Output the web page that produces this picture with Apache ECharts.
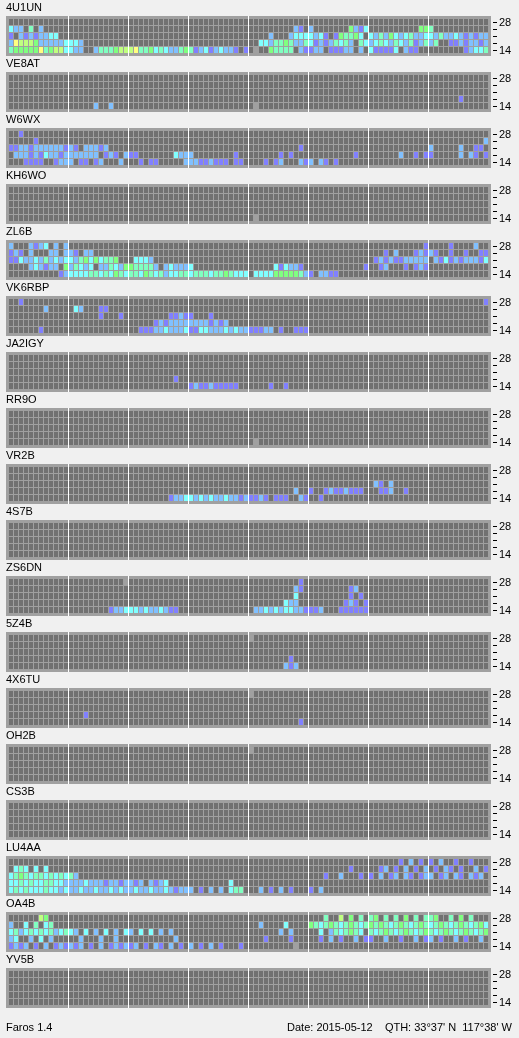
<!DOCTYPE html>
<html><head><meta charset="utf-8">
<script src="https://cdn.jsdelivr.net/npm/echarts@6/dist/echarts.min.js"></script>
<style>html,body{margin:0;padding:0;background:#f0f0f0;}#c{width:519px;height:1038px;}</style>
</head><body><div id="c"></div>
<script>
// ---- DATA ----
// bands, bottom to top
const bandLabels = ['14', '18', '21', '24', '28'];
// 96 fifteen-minute time slots of the day
const slots = Array.from({length: 96}, (_, i) => i);
// slot indices where a 3-hour divider is drawn
const hourMarks = [12, 24, 36, 48, 60, 72, 84];
const stationNames = ['4U1UN','VE8AT','W6WX','KH6WO','ZL6B','VK6RBP','JA2IGY','RR9O','VR2B','4S7B','ZS6DN','5Z4B','4X6TU','OH2B','CS3B','LU4AA','OA4B','YV5B'];
// signal level colours (1 = weakest ... 7 = strongest), 'g' = slot being monitored
const levelColors = ['#8080ff','#80c0ff','#80ffff','#80ffc0','#80ff80','#c0ff80','#ffff80'];
const emptyColor = '#717171';
const currentColor = '#a0a0a0';
const footerLeft = 'Faros 1.4';
const footerRight = "Date: 2015-05-12    QTH: 33\u00b037' N  117\u00b038' W";

const E = '............';
// rows: 28, 24, 21, 18, 14 MHz (top to bottom); '.' no signal, digit = level
const st_4U1UN = [
  [E,E,E,E,E,E,E,E].join(' '),
  ['322.4.2.....',E,E,E,'.........21.','2.......5213','..........55','4...........'].join(' '),
  ['1.21212233..',E,E,E,'....2...2333','3231.154453.','324253234223','324223212122'].join(' '),
  ['276665222223','332.........',E,E,'..3324454224','312124342.43','234324324124','24..11212212'].join(' '),
  ['455555745663','322..2444566','674453432245','4123123221.1','.g..54444.21','122.11122.2.','311113.211..','.......12334'].join(' ')
];
const st_VE8AT = [
  [E,E,E,E,E,E,E,E].join(' '),
  [E,E,E,E,E,E,E,E].join(' '),
  [E,E,E,E,E,E,E,E].join(' '),
  [E,E,E,E,E,E,E,'......1.....'].join(' '),
  [E,'.....2..2...',E,E,'.g..........',E,E,E].join(' ')
];
const st_W6WX = [
  ['..1.........',E,E,E,E,E,E,E].join(' '),
  ['.....1......',E,E,E,E,E,E,'...........2'].join(' '),
  ['112212222221','21.22212....',E,E,'..........1.',E,E,'2.....2..11.'].join(' '),
  ['.22212132212','222222.121.2','11.......322','2........1..','......1.1...','.........1..','......2..1.1','1.....2.21.1'].join(' '),
  ['...1111..122','2.11.12...2.','..1.11.....2','22112111.11.','...1.12...21','2.21.1......',E,E].join(' ')
];
const st_KH6WO = [
  [E,E,E,E,E,E,E,E].join(' '),
  [E,E,E,E,E,E,E,E].join(' '),
  [E,E,E,E,E,E,E,E].join(' '),
  [E,E,E,E,E,E,E,E].join(' '),
  [E,E,E,E,'.g..........',E,E,E].join(' ')
];
const st_ZL6B = [
  ['2...2123.2.2',E,E,E,E,E,'...........1','....1....2..'].join(' '),
  ['121.2...22.2','21.22.......',E,E,E,E,'...1.2...121','21..1..1..11'].join(' '),
  ['113223242323','3245353445..','.3332.......',E,E,E,'.12121122222','.21312122213'].join(' '),
  ['....232122.5','24323.224325','544442.23222','3...........','.....313221.','...........1','..12...1.121',E].join(' '),
  ['..........12','333344343543','443543423344','344434454333','.33335555542','1.2211......',E,E].join(' ')
];
const st_VK6RBP = [
  ['..1.........',E,E,E,E,E,E,'...........1'].join(' '),
  ['.......2....','.32...11....',E,E,E,E,E,E].join(' '),
  [E,'......1...1.','........1121','1...1.......',E,E,E,E].join(' '),
  [E,E,'.....1212222','22221212....',E,E,E,E].join(' '),
  ['......1.....',E,'..1112232223','113322232322','11122.1..111',E,E,E].join(' ')
];
const st_JA2IGY = [
  [E,E,E,E,E,E,E,E].join(' '),
  [E,E,E,E,E,E,E,E].join(' '),
  [E,E,E,E,E,E,E,E].join(' '),
  [E,E,'.........1..',E,E,E,E,E].join(' '),
  [E,E,E,'1211211111..','....1..1....',E,E,E].join(' ')
];
const st_RR9O = [
  [E,E,E,E,E,E,E,E].join(' '),
  [E,E,E,E,E,E,E,E].join(' '),
  [E,E,E,E,E,E,E,E].join(' '),
  [E,E,E,E,E,E,E,E].join(' '),
  [E,E,E,E,'.g..........',E,E,E].join(' ')
];
const st_VR2B = [
  [E,E,E,E,E,E,E,E].join(' '),
  [E,E,E,E,E,E,E,E].join(' '),
  [E,E,E,E,E,E,'.21.2.......',E].join(' '),
  [E,E,E,E,'.........2..','1..12112111.','..112..1....',E].join(' '),
  [E,E,'........1223','323232232212','1121.111..21','..1.........',E,E].join(' ')
];
const st_4S7B = [
  [E,E,E,E,E,E,E,E].join(' '),
  [E,E,E,E,E,E,E,E].join(' '),
  [E,E,E,E,E,E,E,E].join(' '),
  [E,E,E,E,E,E,E,E].join(' '),
  [E,E,E,E,E,E,E,E].join(' ')
];
const st_ZS6DN = [
  [E,'...........g',E,E,'..........1.',E,E,E].join(' '),
  [E,E,E,E,'.........21.','........12..',E,E].join(' '),
  [E,E,E,E,'.........3..','........1.1.',E,E].join(' '),
  [E,E,E,E,'.......322..','.......121.1',E,E].join(' '),
  [E,'........1223','3323223211..',E,'.22323233221','112...111111',E,E].join(' ')
];
const st_5Z4B = [
  [E,E,E,E,'g...........',E,E,E].join(' '),
  [E,E,E,E,E,E,E,E].join(' '),
  [E,E,E,E,E,E,E,E].join(' '),
  [E,E,E,E,'........1...',E,E,E].join(' '),
  [E,E,E,E,'.......212..',E,E,E].join(' ')
];
const st_4X6TU = [
  [E,E,E,E,'g...........',E,E,E].join(' '),
  [E,E,E,E,E,E,E,E].join(' '),
  [E,E,E,E,E,E,E,E].join(' '),
  [E,'...1........',E,E,E,E,E,E].join(' '),
  [E,E,E,E,'..........1.',E,E,E].join(' ')
];
const st_OH2B = [
  [E,E,E,E,'g...........',E,E,E].join(' '),
  [E,E,E,E,E,E,E,E].join(' '),
  [E,E,E,E,E,E,E,E].join(' '),
  [E,E,E,E,E,E,E,E].join(' '),
  [E,E,E,E,E,E,E,E].join(' ')
];
const st_CS3B = [
  [E,E,E,E,E,E,E,E].join(' '),
  [E,E,E,E,E,E,E,E].join(' '),
  [E,E,E,E,E,E,E,E].join(' '),
  [E,E,E,E,E,E,E,E].join(' '),
  [E,E,E,E,E,E,E,E].join(' ')
];
const st_LU4AA = [
  [E,E,E,E,E,E,'......1.2.1.','1.2..1..1...'].join(' '),
  ['.343.3.3....',E,E,E,E,'........1...','..12.1.2.1.2','.1.21.1..2.1'].join(' '),
  ['345434434343','42..........',E,E,E,'...1..2...1.','1.2.12.21.12','2.12.21.212.'].join(' '),
  ['334343344332','222322212212','212.2123....','........3...',E,E,E,E].join(' '),
  ['343433343323','223223223232','232232232122','2.1.2.2.344.','..2.1.2.1...','1.2.........',E,E].join(' ')
];
const st_OA4B = [
  ['......65....',E,E,E,E,'...4..6.5.4.','45.4.4.5.4.4','45..4.5.4...'].join(' '),
  ['2..3.4.34...',E,E,E,'..2....3....','543454345434','545434543454','345434543453'].join(' '),
  ['342343434234','32.3.2.3.2.3','2.3.3.2.2...',E,'......2.2...','..3.2434543.','434543454345','434543454345'].join(' '),
  ['23..2.3.2...','..2...2..2..','.........2..',E,'...1....1...','..1.2.1..2.1','1..2..1..2.1','2.1..2.1..2.'].join(' '),
  ['1212.1.2.121','212.1.2.1212','12.1.21.2.1.','2.1.2.1...1.','.........g..',E,E,E].join(' ')
];
const st_YV5B = [
  [E,E,E,E,E,E,E,E].join(' '),
  [E,E,E,E,E,E,E,E].join(' '),
  [E,E,E,E,E,E,E,E].join(' '),
  [E,E,E,E,E,E,E,E].join(' '),
  [E,E,E,E,E,E,E,E].join(' ')
];
const stationRows = [st_4U1UN, st_VE8AT, st_W6WX, st_KH6WO, st_ZL6B, st_VK6RBP, st_JA2IGY, st_RR9O, st_VR2B, st_4S7B, st_ZS6DN, st_5Z4B, st_4X6TU, st_OH2B, st_CS3B, st_LU4AA, st_OA4B, st_YV5B];

// ---- CHART ----
const FONT = '"Liberation Sans", Arial, sans-serif';
const PITCH = 56;
function cellColor(v) {
  if (v < 0) return currentColor;
  if (v === 0) return emptyColor;
  return levelColors[v - 1];
}
function parseRows(rows) {
  const out = [];
  rows.forEach((str, r) => {
    const t = str.replace(/\s+/g, '');
    const j = 4 - r;
    for (let k = 0; k < slots.length; k++) {
      const ch = t[k] || '.';
      const v = ch === '.' ? 0 : (ch === 'g' ? -1 : parseInt(ch, 10));
      out.push([k, j, v]);
    }
  });
  return out;
}
function renderFrame(params, api) {
  const cs = params.coordSys;
  return {type: 'rect', shape: {x: cs.x - 2, y: cs.y - 3, width: cs.width + 5, height: cs.height + 5}, style: {fill: '#a0a0a0'}};
}
function renderCell(params, api) {
  const c = api.coord([api.value(0), api.value(1)]);
  const s = api.size([1, 1]);
  return {type: 'rect', shape: {x: Math.round(c[0] - s[0] / 2) + 1, y: Math.round(c[1] - s[1] / 2), width: s[0] - 1, height: s[1] - 1}, style: {fill: cellColor(api.value(2))}};
}
function renderDivider(params, api) {
  const cs = params.coordSys;
  const c = api.coord([api.value(0), 0]);
  const s = api.size([1, 1]);
  return {type: 'rect', shape: {x: Math.round(c[0] - s[0] / 2), y: cs.y - 3, width: 1, height: cs.height + 5}, style: {fill: '#ffffff'}};
}

const grids = [], xAxes = [], yAxes = [], series = [], graphics = [];
stationNames.forEach((name, i) => {
  const top0 = 16 + PITCH * i;
  graphics.push({type: 'text', x: 6, y: top0 - 8, style: {text: name, font: '11px ' + FONT, fill: '#000', textVerticalAlign: 'middle'}});
  grids.push({left: 8, top: top0 + 3, width: 480, height: 35, containLabel: false});
  xAxes.push({type: 'category', gridIndex: i, data: slots, show: false, boundaryGap: true});
  yAxes.push({
    type: 'category', gridIndex: i, data: bandLabels, position: 'right', offset: 5,
    axisLine: {show: false},
    axisTick: {show: true, alignWithLabel: true, interval: 0, length: 4, lineStyle: {color: '#000', width: 1}},
    axisLabel: {interval: 0, margin: 6, fontSize: 11, fontFamily: FONT, color: '#000',
      formatter: v => (v === bandLabels[0] || v === bandLabels[4]) ? v : ''},
    splitLine: {show: false}
  });
  series.push({type: 'custom', xAxisIndex: i, yAxisIndex: i, z: 1, silent: true, data: [[0, 0]], renderItem: renderFrame});
  series.push({type: 'custom', xAxisIndex: i, yAxisIndex: i, z: 2, silent: true, data: parseRows(stationRows[i]), renderItem: renderCell});
  series.push({type: 'custom', xAxisIndex: i, yAxisIndex: i, z: 3, silent: true, data: hourMarks.map(h => [h, 0]), renderItem: renderDivider});
});
graphics.push({type: 'text', x: 6, y: 1028, style: {text: footerLeft, font: '11px ' + FONT, fill: '#000', textVerticalAlign: 'middle'}});
graphics.push({type: 'text', x: 512, y: 1028, style: {text: footerRight, font: '11px ' + FONT, fill: '#000', textAlign: 'right', textVerticalAlign: 'middle'}});

const chart = echarts.init(document.getElementById('c'), null, {renderer: 'canvas'});
chart.setOption({
  animation: false,
  backgroundColor: '#f0f0f0',
  grid: grids, xAxis: xAxes, yAxis: yAxes, series: series,
  graphic: {elements: graphics}
});
</script></body></html>
